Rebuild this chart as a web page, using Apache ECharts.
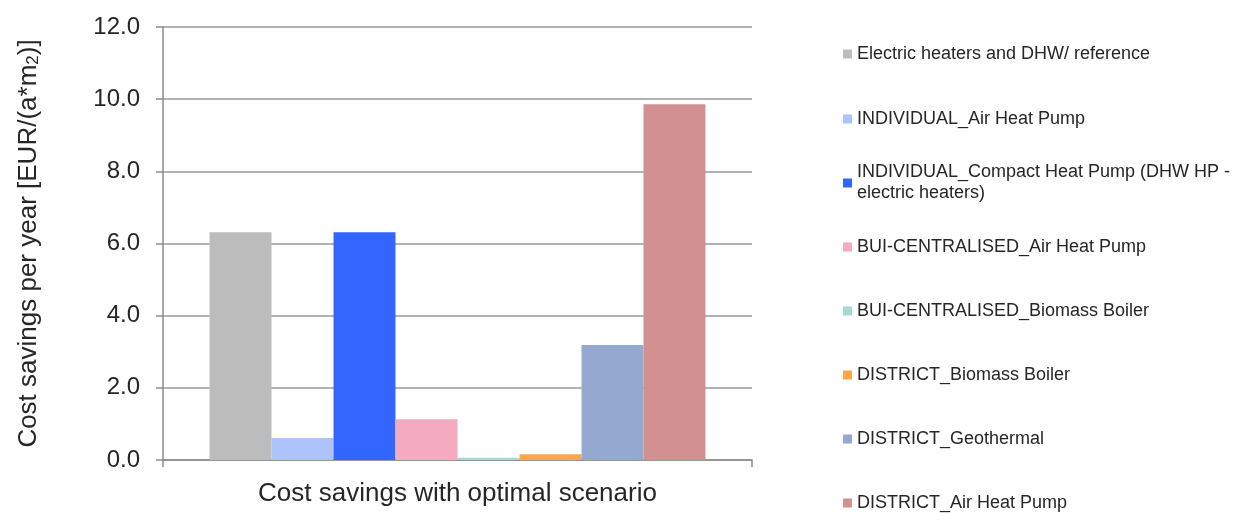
<!DOCTYPE html>
<html>
<head>
<meta charset="utf-8">
<script src="https://cdn.jsdelivr.net/npm/echarts@6/dist/echarts.min.js"></script>
<style>html,body{margin:0;padding:0;background:#fff;}#main{width:1247px;height:513px;}</style>
</head>
<body>
<div id="main"></div>
<script>
const categories = ['Cost savings with optimal scenario'];
const seriesNames = [
  'Electric heaters and DHW/ reference',
  'INDIVIDUAL_Air Heat Pump',
  'INDIVIDUAL_Compact Heat Pump (DHW HP -\nelectric heaters)',
  'BUI-CENTRALISED_Air Heat Pump',
  'BUI-CENTRALISED_Biomass Boiler',
  'DISTRICT_Biomass Boiler',
  'DISTRICT_Geothermal',
  'DISTRICT_Air Heat Pump'
];
const seriesValues = [6.31, 0.61, 6.31, 1.13, 0.06, 0.16, 3.19, 9.86];
const seriesColors = ['#bcbcbc', '#adc3fb', '#3366ff', '#f4abbf', '#a8d8d0', '#ffa64d', '#93a9cf', '#d29090'];
const yTicks = { min: 0, max: 12, interval: 2 };

const chart = echarts.init(document.getElementById('main'), null, { renderer: 'canvas' });
const FONT = 'Liberation Sans, Arial, sans-serif';
const TXT = '#262626';

const legendCenters = [54, 119, 183, 247, 311, 375, 439, 503];
const LH = 21;
const legends = seriesNames.map((n, i) => {
  const twoLine = n.indexOf('\n') >= 0;
  return {
    orient: 'vertical',
    left: 843,
    top: legendCenters[i] - (twoLine ? LH * 1.5 : LH / 2),
    padding: 0,
    itemWidth: 9,
    itemHeight: 9,
    icon: 'rect',
    selectedMode: false,
    textStyle: Object.assign({ fontFamily: FONT, fontSize: 18, color: TXT, lineHeight: LH },
      twoLine ? { padding: [LH, 0, 0, 0] } : {}),
    data: [n]
  };
});

const option = {
  animation: false,
  backgroundColor: '#ffffff',
  grid: { left: 163, right: 495, top: 27, bottom: 53, containLabel: false },
  legend: legends,
  xAxis: {
    type: 'category',
    data: categories,
    axisLine: { show: true, lineStyle: { color: '#8c8c8c', width: 1.5 } },
    axisTick: { show: true, length: 7, lineStyle: { color: '#8c8c8c', width: 1.5 } },
    axisLabel: { fontFamily: FONT, fontSize: 26, color: TXT, margin: 21 }
  },
  yAxis: {
    type: 'value',
    min: yTicks.min, max: yTicks.max, interval: yTicks.interval,
    name: 'Cost savings per year [EUR/(a*m{sub|2})]',
    nameLocation: 'middle',
    nameRotate: 90,
    nameGap: 121,
    nameTextStyle: {
      fontFamily: FONT, fontSize: 26, color: TXT,
      rich: { sub: { fontFamily: FONT, fontSize: 17, color: TXT, verticalAlign: 'bottom', padding: [10, 0, 0, 0] } }
    },
    axisLine: { show: true, lineStyle: { color: '#8c8c8c', width: 1.5 } },
    axisTick: { show: true, length: 7, inside: false, lineStyle: { color: '#8c8c8c', width: 1.5 } },
    axisLabel: { fontFamily: FONT, fontSize: 24, color: TXT, margin: 23, formatter: v => v.toFixed(1) },
    splitLine: { show: true, lineStyle: { color: '#9a9a9a', width: 1.5 } }
  },
  series: seriesNames.map((n, i) => ({
    name: n,
    type: 'bar',
    data: [seriesValues[i]],
    barGap: '0%',
    barCategoryGap: '15.8%',
    itemStyle: { color: seriesColors[i] }
  }))
};
chart.setOption(option);
</script>
</body>
</html>
